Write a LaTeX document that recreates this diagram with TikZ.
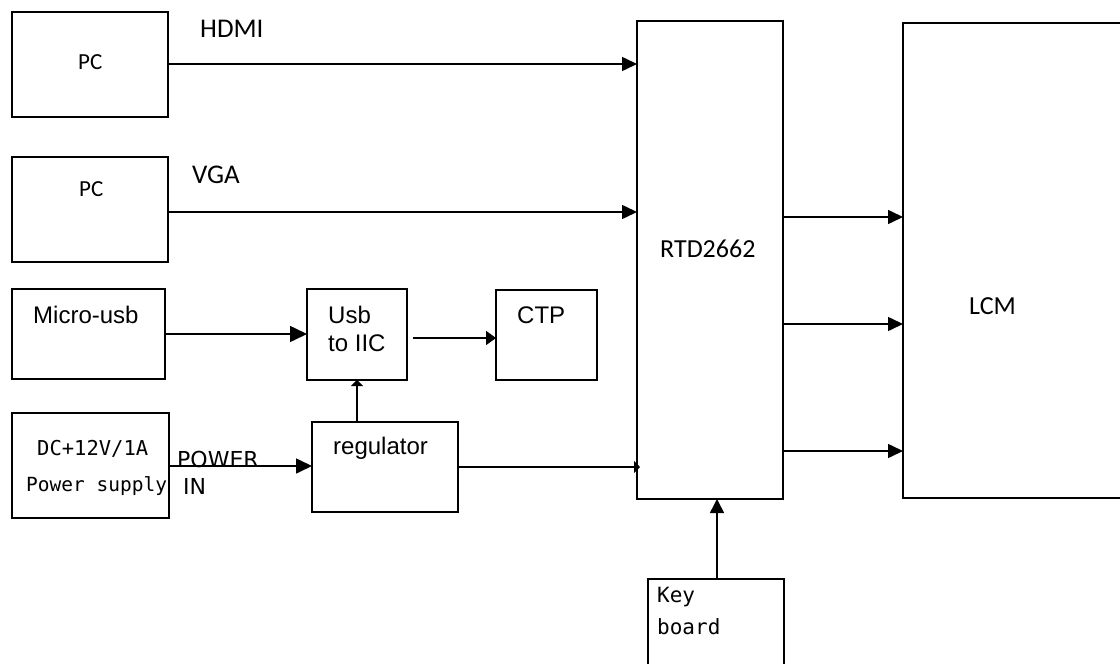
\documentclass[tikz,border=0pt]{standalone}
\usepackage{fontspec}
\setmainfont{Carlito}
\newfontfamily\arialf{Liberation Sans}
\newfontfamily\monof{DejaVu Sans Mono}
\newfontfamily\dvsans{DejaVu Sans}
\usetikzlibrary{arrows.meta}
\newcommand{\blockbox}[5]{%
  \node[blk, minimum width={(#4)-(#2)}, minimum height={(#5)-(#3)}] (#1) at ({((#2)+(#4))/2},{((#3)+(#5))/2}) {};}
\begin{document}
\begin{tikzpicture}[x=1pt,y=-1pt,
  blk/.style={draw, line width=1.8pt, inner sep=0pt, outer sep=0pt},
  lbl/.style={anchor=base west, inner sep=0pt},
  conn/.style={line width=1.6pt},
  bigtip/.style={conn, -{Triangle[length=15pt,width=14pt]}},
  smalltip/.style={conn, -{Triangle[length=6pt,width=12pt]}}]
\useasboundingbox (0,0) rectangle (1120,664);
% boxes
\blockbox{pc1}{12}{12}{168}{117}
\blockbox{pc2}{12}{157}{168}{262}
\blockbox{musb}{12}{289}{165}{379}
\blockbox{dc}{12}{413}{169}{518}
\blockbox{usb}{307}{289}{407}{380}
\blockbox{ctp}{496}{290}{597}{380}
\blockbox{reg}{312}{422}{458}{512}
\blockbox{rtd}{637}{21}{783}{499}
\blockbox{lcm}{903}{23}{1135}{498}
\blockbox{key}{648}{579}{784}{680}
% texts
\node[lbl, font=\fontsize{23}{27}\selectfont] (tpc1) at (78,69) {PC};
\node[lbl, font=\fontsize{23}{27}\selectfont] (tpc2) at (79,196) {PC};
\node[lbl, font=\fontsize{27}{31}\selectfont] (thdmi) at (200,37) {HDMI};
\node[lbl, font=\fontsize{27}{31}\selectfont] (tvga) at (192,183) {VGA};
\node[lbl, font=\arialf\fontsize{24}{28}\selectfont] (tmusb) at (33,323) {Micro-usb};
\node[lbl, font=\arialf\fontsize{24}{28}\selectfont] (tusb1) at (328,323) {Usb};
\node[lbl, font=\arialf\fontsize{24}{28}\selectfont] (tusb2) at (328,351) {to IIC};
\node[lbl, font=\arialf\fontsize{24}{28}\selectfont] (tctp) at (517,323) {CTP};
\node[lbl, font=\arialf\fontsize{24}{28}\selectfont] (treg) at (333,454) {regulator};
\node[lbl, font=\monof\fontsize{20.5}{24}\selectfont] (tdc1) at (37,455) {DC+12V/1A};
\node[lbl, font=\monof\fontsize{19.5}{23}\selectfont] (tdc2) at (26,491) {Power supply};
\node[lbl, font=\dvsans\fontsize{22}{26}\selectfont] (tpow) at (177,467) {POWER};
\node[lbl, font=\dvsans\fontsize{22}{26}\selectfont] (tin) at (183,494) {IN};
\node[lbl, font=\fontsize{26}{30}\selectfont] (trtd) at (660,257) {RTD2662};
\node[lbl, font=\fontsize{26}{30}\selectfont] (tlcm) at (969,314) {LCM};
\node[lbl, font=\monof\fontsize{21}{25}\selectfont] (tkey1) at (657,602) {Key};
\node[lbl, font=\monof\fontsize{21}{25}\selectfont] (tkey2) at (657,634) {board};
% connectors
\draw[bigtip] (pc1.east |- 0,64) -- (rtd.west |- 0,64);
\draw[bigtip] (pc2.east |- 0,212) -- (rtd.west |- 0,212);
\draw[conn, -{Triangle[length=17pt,width=16pt]}] (musb.east |- 0,334) -- (usb.west |- 0,334);
\draw[conn, -{Triangle[length=10pt,width=14pt]}] ([xshift=6pt]usb.east |- 0,338) -- (ctp.west |- 0,338);
\draw[conn, -{Triangle[length=16pt,width=15pt]}] (dc.east |- 0,466) -- (reg.west |- 0,466);
\draw[smalltip] (reg.north -| 357,0) -- (usb.south -| 357,0);
\draw[smalltip] (reg.east |- 0,467) -- ([xshift=3pt]rtd.west |- 0,467);
\draw[bigtip] (rtd.east |- 0,217) -- (lcm.west |- 0,217);
\draw[bigtip] (rtd.east |- 0,324) -- (lcm.west |- 0,324);
\draw[bigtip] (rtd.east |- 0,451) -- (lcm.west |- 0,451);
\draw[conn, -{Triangle[length=14pt,width=14pt]}] (key.north -| 717,0) -- (rtd.south -| 717,0);
\end{tikzpicture}
\end{document}
